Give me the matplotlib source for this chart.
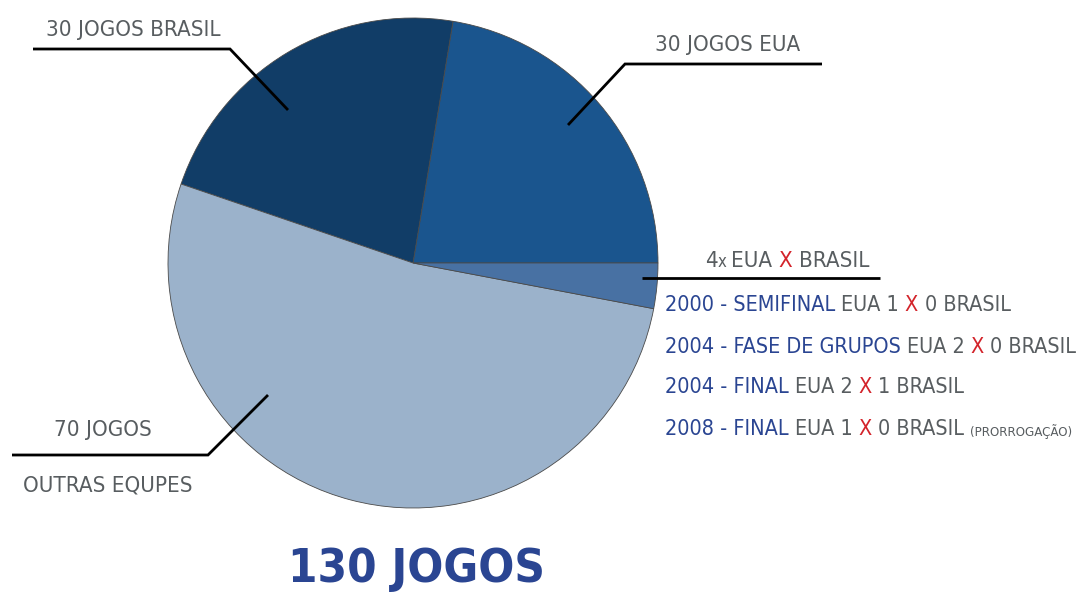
import matplotlib
matplotlib.use("Agg")
import matplotlib.pyplot as plt

# ---- data ----
slice_labels = ["30 JOGOS EUA", "30 JOGOS BRASIL", "70 JOGOS OUTRAS EQUPES", "4x EUA X BRASIL"]
slice_values = [30, 30, 70, 4]
slice_colors = ["#1a558e", "#113d67", "#9bb2cb", "#4871a3"]
matches = [
    ("2000 - SEMIFINAL", "EUA 1", "0 BRASIL", ""),
    ("2004 - FASE DE GRUPOS", "EUA 2", "0 BRASIL", ""),
    ("2004 - FINAL", "EUA 2", "1 BRASIL", ""),
    ("2008 - FINAL", "EUA 1", "0 BRASIL", "(PRORROGAÇÃO)"),
]
total_label = "130 JOGOS"

W, H = 1091, 593
FAM = ["DejaVu Sans"]
STR = "condensed"
GRAY = "#585d60"
BLUE = "#2a4592"
RED = "#d3232a"

fig = plt.figure(figsize=(W / 100, H / 100), dpi=100)
ax = fig.add_axes([0, 0, 1, 1])
ax.set_xlim(0, W)
ax.set_ylim(0, H)
ax.set_aspect("equal")
ax.axis("off")

def Y(y):
    return H - y

ax.pie(slice_values, colors=slice_colors, startangle=0, counterclock=True,
       center=(413, Y(263)), radius=245,
       wedgeprops=dict(edgecolor="#4a4a4a", linewidth=0.6))
ax.set_xlim(0, W)
ax.set_ylim(0, H)

def leader(pts):
    ax.plot([p[0] for p in pts], [Y(p[1]) for p in pts], color="black", lw=2,
            solid_capstyle="butt", solid_joinstyle="miter")

leader([(288, 110), (230, 49), (33, 49)])
leader([(568, 125), (625, 64), (822, 64)])
leader([(642, 278), (880, 278)])
leader([(268, 395), (208, 455), (12, 455)])

FS = 16
FS2 = 15.5
kw = dict(family=FAM, stretch=STR)
ax.text(133, Y(30), slice_labels[1], fontsize=FS, color=GRAY, ha="center", va="center", **kw)
ax.text(728, Y(45), slice_labels[0], fontsize=FS, color=GRAY, ha="center", va="center", **kw)
ax.text(103, Y(430), "70 JOGOS", fontsize=FS, color=GRAY, ha="center", va="center", **kw)
ax.text(108, Y(485), "OUTRAS EQUPES", fontsize=FS, color=GRAY, ha="center", va="center", **kw)

def seq(x, y, parts):
    t = ax.text(x, Y(y), parts[0][0], fontsize=parts[0][2], color=parts[0][1],
                ha="left", va="baseline", **kw)
    prev = t
    for s, c, fs in parts[1:]:
        prev = ax.annotate(s, xy=(1, 0), xycoords=prev, fontsize=fs, color=c,
                           ha="left", va="bottom", **kw)
    return t

seq(705, 267, [("4", GRAY, FS), ("x ", GRAY, 12), ("EUA ", GRAY, FS), ("X ", RED, FS), ("BRASIL", GRAY, FS)])

ys = [311, 353, 393, 435]
for (a, b, c, d), y in zip(matches, ys):
    parts = [(a + " ", BLUE, FS2), (b + " ", GRAY, FS2), ("X ", RED, FS2), (c + (" " if d else ""), GRAY, FS2)]
    if d:
        parts.append((d, GRAY, 9.5))
    seq(665, y, parts)

ax.text(416, Y(569), total_label, fontsize=34, fontweight="bold", color=BLUE,
        ha="center", va="center", **kw)

fig.savefig("out.png", dpi=100)
